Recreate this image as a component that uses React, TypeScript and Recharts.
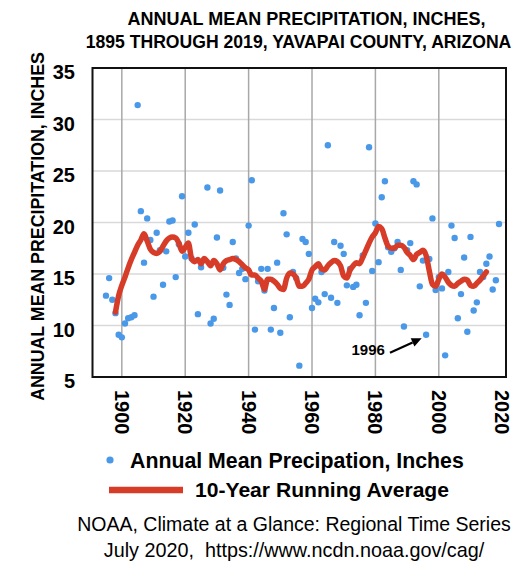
import React from 'react';
import {
  ComposedChart,
  Scatter,
  Line,
  XAxis,
  YAxis,
  CartesianGrid,
  ReferenceArea,
  ReferenceLine,
} from 'recharts';

// ---------- data ----------
const START_YEAR = 1895;
// Annual mean precipitation, inches, 1895..2019
const PRECIP: number[] = [
  12.9, 14.6, 12.5, 11.2, 9.1, 8.85, 10.2, 10.7, 10.8, 11.0, // 1895-1904
  31.4, 21.1, 16.1, 20.4, 18.3, 12.8, 19.0, 17.3, 13.95, 17.2, // 1905-1914
  20.1, 20.2, 14.7, 17.9, 22.55, 16.7, 19.0, 16.5, 19.8, 11.1, // 1915-1924
  15.65, 16.4, 23.4, 10.2, 10.65, 18.55, 23.1, 15.6, 13.0, 12.0, // 1925-1934
  18.1, 16.5, 15.1, 15.5, 14.5, 19.7, 24.1, 9.6, 14.3, 15.5, // 1935-1944
  13.4, 15.5, 9.6, 11.7, 16.1, 9.3, 20.9, 18.85, 10.8, 15.2, // 1945-1954
  14.6, 6.1, 18.4, 18.1, 16.95, 11.7, 12.6, 12.25, 15.2, 13.05, // 1955-1964
  27.5, 12.7, 18.1, 12.2, 17.75, 16.95, 13.9, 15.5, 13.75, 13.95, // 1965-1974
  11.0, 16.8, 12.2, 27.3, 15.3, 19.9, 16.15, 22.45, 24.0, 17.6, // 1975-1984
  17.15, 17.5, 18.1, 15.4, 9.9, 17.3, 18.0, 24.0, 23.7, 13.8, // 1985-1994
  16.3, 9.1, 16.45, 20.4, 13.45, 14.7, 13.6, 7.1, 15.2, 19.7, // 1995-2004
  18.5, 10.7, 13.05, 16.6, 9.4, 18.6, 11.45, 12.25, 15.2, 14.7, // 2005-2014
  16.0, 16.7, 13.5, 14.4, 19.85, // 2015-2019
];

const AVG_START_YEAR = 1898;
// 10-year running average (red curve), 1898..2015
const RUNNING_AVG: number[] = [
  11.3, 12.9, 13.9, 14.7, 15.6, 16.4, 17.1, 17.8, 18.3, 18.9, // 1898-1907
  18.2, 17.4, 17.1, 17.0, 17.2, 17.7, 18.2, 18.5, 18.6, 18.5, // 1908-1917
  18.0, 17.2, 17.6, 18.0, 16.5, 16.2, 16.4, 16.0, 16.5, 16.2, // 1918-1927
  15.8, 16.3, 16.0, 15.4, 16.0, 16.3, 16.4, 16.5, 16.4, 16.2, // 1928-1937
  15.9, 15.6, 15.4, 14.9, 14.9, 14.6, 14.3, 13.5, 14.5, 14.5, // 1938-1947
  14.3, 14.0, 13.6, 13.5, 14.6, 15.1, 15.0, 14.6, 13.8, 13.8, // 1948-1957
  14.1, 14.5, 15.4, 15.7, 16.0, 15.5, 15.4, 15.8, 16.1, 16.3, // 1958-1967
  16.2, 15.8, 14.8, 14.6, 15.4, 15.8, 16.1, 16.0, 16.6, 17.3, // 1968-1977
  18.0, 18.6, 19.0, 19.6, 19.4, 18.5, 17.7, 17.5, 17.5, 17.8, // 1978-1987
  17.8, 17.6, 17.1, 16.8, 16.4, 16.9, 17.1, 17.3, 16.8, 15.3, // 1988-1997
  14.0, 13.8, 14.5, 15.0, 14.7, 14.2, 13.9, 13.8, 14.1, 14.3, // 1998-2007
  14.5, 14.4, 13.9, 13.8, 14.1, 14.4, 14.8, 15.2, // 2008-2015
];

const X_TICKS = [1900, 1920, 1940, 1960, 1980, 2000, 2020];
const X_GRID = [1900, 1920, 1940, 1960, 1980, 2000];
const Y_TICKS = [5, 10, 15, 20, 25, 30, 35];
const X_DOMAIN: [number, number] = [1890.75, 2021.2];
const Y_DOMAIN: [number, number] = [5, 35];

const TITLE_1 = 'ANNUAL MEAN PRECIPITATION, INCHES,';
const TITLE_2 = '1895 THROUGH 2019, YAVAPAI COUNTY, ARIZONA';
const Y_LABEL = 'ANNUAL MEAN PRECIPITATION, INCHES';
const LEGEND_SCATTER = 'Annual Mean Precipation, Inches';
const LEGEND_LINE = '10-Year Running Average';
const SOURCE_1 = 'NOAA, Climate at a Glance: Regional Time Series';
const SOURCE_2 = 'July 2020,  https://www.ncdn.noaa.gov/cag/';
const ANNOTATION_LABEL = '1996';
const ANNOTATION_FROM = { x: 1984.6, y: 7.36 };
const ANNOTATION_TO = { x: 1994.6, y: 8.76 };

// ---------- styling ----------
const FONT = '"Liberation Sans", Arial, Helvetica, sans-serif';
const BLUE = '#4a98e8';
const RED = '#d63c28';

const data = PRECIP.map((p, i) => {
  const year = START_YEAR + i;
  const j = year - AVG_START_YEAR;
  return {
    year,
    precip: p,
    avg: j >= 0 && j < RUNNING_AVG.length ? RUNNING_AVG[j] : null,
  };
});

const XTick = (props: any) => {
  const { x, y, payload } = props;
  const ty = y + 13;
  return (
    <text
      x={x}
      y={ty}
      transform={`rotate(90, ${x}, ${ty})`}
      textAnchor="start"
      dominantBaseline="central"
      fontFamily={FONT}
      fontWeight="bold"
      fontSize={20}
      fill="#000"
    >
      {payload.value}
    </text>
  );
};

const YTick = (props: any) => {
  const { x, y, payload } = props;
  return (
    <text
      x={x}
      y={y + 4}
      textAnchor="end"
      dominantBaseline="central"
      fontFamily={FONT}
      fontWeight="bold"
      fontSize={20}
      fill="#000"
    >
      {payload.value}
    </text>
  );
};

const Dot = (props: any) => {
  const { cx, cy } = props;
  if (cx == null || cy == null) return null;
  return <circle cx={cx} cy={cy} r={3.2} fill={BLUE} />;
};

const ArrowShape = (props: any) => {
  const { x1, y1, x2, y2 } = props;
  if ([x1, y1, x2, y2].some((v) => v == null || isNaN(v))) return null;
  const ang = Math.atan2(y2 - y1, x2 - x1);
  const len = 10;
  const w = 4.5;
  const bx = x2 - len * Math.cos(ang);
  const by = y2 - len * Math.sin(ang);
  const px = -Math.sin(ang) * w;
  const py = Math.cos(ang) * w;
  return (
    <g>
      <line x1={x1} y1={y1} x2={bx} y2={by} stroke="#000" strokeWidth={2.2} />
      <polygon points={`${x2},${y2} ${bx + px},${by + py} ${bx - px},${by - py}`} fill="#000" />
      <text
        x={x1 - 38.5}
        y={y1 + 2.5}
        textAnchor="start"
        fontFamily={FONT}
        fontWeight="bold"
        fontSize={15}
        fill="#000"
      >
        {ANNOTATION_LABEL}
      </text>
    </g>
  );
};

export default function App() {
  return (
    <div style={{ position: 'absolute', left: 0, top: 0, width: 522, height: 565, background: '#fff' }}>
      <div style={{ position: 'absolute', left: 0, top: 0 }}>
        <ComposedChart
          width={522}
          height={565}
          data={data}
          margin={{ top: 68, right: 16, bottom: 128, left: 0 }}
        >
          <CartesianGrid vertical={false} stroke="#d9d9d9" strokeWidth={1.5} />
          <CartesianGrid
            horizontal={false}
            stroke="#a8a8a8"
            strokeWidth={1.5}
            verticalValues={X_GRID}
          />
          <XAxis
            type="number"
            dataKey="year"
            domain={X_DOMAIN}
            ticks={X_TICKS}
            interval={0}
            allowDataOverflow
            axisLine={false}
            tickLine={false}
            tickSize={0}
            tickMargin={0}
            height={60}
            tick={(p: any) => <XTick {...p} />}
          />
          <YAxis
            type="number"
            domain={Y_DOMAIN}
            ticks={Y_TICKS}
            interval={0}
            allowDataOverflow
            axisLine={false}
            tickLine={false}
            tickSize={0}
            tickMargin={17.5}
            width={92.5}
            tick={(p: any) => <YTick {...p} />}
          />
          <ReferenceArea
            x1={X_DOMAIN[0]}
            x2={X_DOMAIN[1]}
            y1={Y_DOMAIN[0]}
            y2={Y_DOMAIN[1]}
            fill="none"
            fillOpacity={0}
            stroke="#111"
            strokeWidth={2}
            ifOverflow="visible"
          />
          <Scatter
            dataKey="precip"
            shape={(p: any) => <Dot {...p} />}
            isAnimationActive={false}
            zIndex={500}
          />
          <Line
            type="monotone"
            dataKey="avg"
            stroke={RED}
            strokeWidth={5.5}
            strokeLinecap="round"
            strokeLinejoin="round"
            dot={false}
            activeDot={false}
            isAnimationActive={false}
            zIndex={700}
          />
          <ReferenceLine
            segment={[ANNOTATION_FROM, ANNOTATION_TO]}
            ifOverflow="visible"
            shape={(p: any) => <ArrowShape {...p} />}
          />
        </ComposedChart>
      </div>
      <svg
        width={522}
        height={565}
        style={{ position: 'absolute', left: 0, top: 0, pointerEvents: 'none' }}
      >
        <g fontFamily={FONT} fill="#000">
          <text x={306.5} y={25} textAnchor="middle" fontWeight="bold" fontSize={18}>
            {TITLE_1}
          </text>
          <text x={298.5} y={48.3} textAnchor="middle" fontWeight="bold" fontSize={17.6}>
            {TITLE_2}
          </text>
          <text
            x={0}
            y={0}
            transform="translate(43.5, 226.5) rotate(-90)"
            textAnchor="middle"
            fontWeight="bold"
            fontSize={17.8}
          >
            {Y_LABEL}
          </text>
          <circle cx={110} cy={460} r={3.6} fill={BLUE} />
          <text x={130} y={467.5} fontWeight="bold" fontSize={21.3}>
            {LEGEND_SCATTER}
          </text>
          <line x1={109} y1={490} x2={183} y2={490} stroke={RED} strokeWidth={6.5} />
          <text x={195} y={497} fontWeight="bold" fontSize={21.1}>
            {LEGEND_LINE}
          </text>
          <text x={294} y={530.5} textAnchor="middle" fontSize={19.5}>
            {SOURCE_1}
          </text>
          <text x={294} y={557} textAnchor="middle" fontSize={19.8} style={{ whiteSpace: 'pre' }}>
            {SOURCE_2}
          </text>
        </g>
      </svg>
    </div>
  );
}
